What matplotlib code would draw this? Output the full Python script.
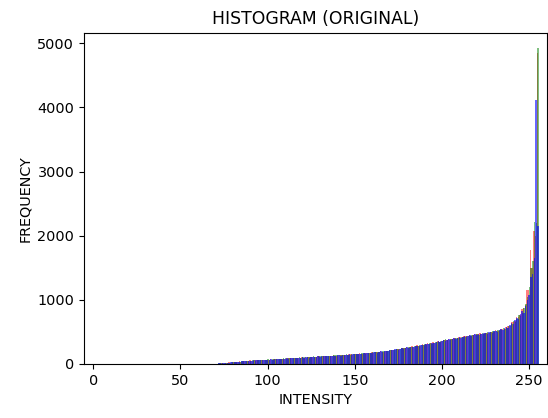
import numpy as np
import matplotlib
matplotlib.use('Agg')
import matplotlib.pyplot as plt

# Pixel counts per intensity level for each colour channel (0..255)
intensity = np.arange(256)

red_counts = [0] * 70 + [
    0, 3, 6, 12, 10, 14, 20, 18, 25, 22,
    30, 28, 35, 32, 40, 38, 45, 42, 50, 48,
    55, 50, 52, 60, 58, 55, 65, 60, 62, 70,
    68, 66, 75, 70, 72, 80, 76, 78, 85, 80,
    82, 90, 86, 88, 95, 90, 92, 100, 96, 98,
    106, 100, 102, 110, 105, 108, 115, 110, 112, 120,
    118, 115, 125, 120, 122, 130, 128, 125, 135, 132,
    130, 140, 138, 135, 148, 145, 142, 152, 150, 148,
    160, 155, 152, 165, 162, 160, 172, 168, 165, 178,
    182, 178, 190, 186, 182, 198, 192, 190, 205, 202,
    210, 218, 222, 220, 235, 230, 238, 250, 242, 248,
    262, 255, 258, 275, 270, 278, 290, 282, 288, 305,
    300, 305, 322, 315, 320, 340, 332, 338, 358, 350,
    360, 378, 370, 375, 392, 385, 390, 405, 398, 402,
    420, 415, 418, 438, 430, 432, 450, 442, 448, 465,
    460, 462, 478, 470, 472, 490, 488, 485, 505, 498,
    500, 525, 520, 515, 545, 540, 550, 580, 590, 600,
    660, 650, 670, 730, 740, 760, 850, 880, 920, 1160,
    1150, 1770, 1500, 2080, 2000, 4850]

green_counts = [0] * 70 + [
    4, 2, 10, 8, 14, 12, 16, 22, 20, 28,
    26, 32, 30, 38, 36, 42, 40, 48, 46, 52,
    48, 55, 58, 52, 62, 58, 60, 66, 64, 62,
    72, 70, 68, 76, 74, 72, 82, 80, 78, 88,
    86, 84, 92, 90, 88, 96, 94, 98, 102, 96,
    104, 106, 100, 112, 110, 106, 118, 116, 112, 122,
    120, 118, 128, 126, 120, 132, 130, 128, 138, 136,
    142, 136, 145, 142, 140, 150, 148, 146, 158, 154,
    152, 162, 158, 156, 168, 166, 162, 175, 172, 170,
    180, 185, 180, 192, 188, 186, 198, 196, 195, 208,
    215, 212, 225, 222, 230, 240, 235, 242, 255, 250,
    255, 265, 262, 268, 280, 275, 282, 295, 290, 298,
    310, 302, 315, 325, 318, 330, 345, 340, 350, 362,
    355, 368, 382, 372, 380, 395, 388, 392, 410, 402,
    408, 425, 420, 428, 442, 435, 440, 455, 448, 452,
    470, 458, 468, 482, 475, 480, 495, 490, 498, 508,
    515, 512, 528, 535, 530, 555, 545, 568, 595, 590,
    630, 670, 660, 700, 760, 750, 800, 870, 940, 1050,
    1200, 1500, 1600, 2210, 2200, 4920]

blue_counts = [0] * 70 + [
    2, 5, 8, 10, 12, 15, 18, 20, 22, 25,
    28, 30, 32, 35, 38, 40, 42, 45, 48, 50,
    50, 52, 55, 58, 55, 60, 62, 58, 65, 68,
    65, 70, 72, 68, 75, 78, 72, 80, 82, 78,
    85, 88, 82, 90, 92, 88, 95, 98, 92, 100,
    102, 98, 105, 108, 100, 110, 112, 108, 115, 118,
    112, 120, 122, 118, 125, 128, 122, 130, 132, 128,
    135, 138, 132, 140, 145, 140, 148, 150, 145, 155,
    158, 152, 160, 162, 158, 165, 170, 165, 172, 175,
    175, 180, 185, 178, 190, 195, 188, 200, 205, 198,
    212, 220, 215, 228, 232, 225, 240, 245, 238, 252,
    258, 250, 265, 272, 262, 280, 285, 278, 295, 300,
    292, 310, 318, 305, 325, 335, 322, 345, 352, 340,
    365, 372, 360, 380, 388, 375, 395, 400, 390, 410,
    418, 405, 425, 432, 420, 440, 445, 435, 452, 460,
    448, 465, 472, 460, 478, 485, 470, 492, 500, 488,
    510, 518, 505, 528, 540, 525, 560, 575, 560, 610,
    640, 625, 680, 710, 700, 780, 820, 800, 900, 1000,
    1080, 1350, 1400, 1650, 4110, 2150]

# colour, alpha and sideways shift per channel, blue drawn last on top
channels = [(red_counts, 'red', 0.5, -0.2),
            (green_counts, 'green', 0.5, 0.2),
            (blue_counts, 'blue', 0.6, 0.0)]

fig = plt.figure(figsize=(5.48, 4.18), dpi=100)
ax = fig.add_axes([0.1533, 0.1292, 0.8440, 0.7926])

for counts, colour, alpha, shift in channels:
    ax.bar(intensity + shift, counts, width=0.85, color=colour, alpha=alpha, linewidth=0)

ax.set_xlim(-5.3, 260)
ax.set_ylim(0, 5166)
ax.set_xticks([0, 50, 100, 150, 200, 250])
ax.set_yticks([0, 1000, 2000, 3000, 4000, 5000])
ax.tick_params(labelsize=10.4)

ax.set_title('HISTOGRAM (ORIGINAL)', fontsize=12.4)
ax.set_xlabel('INTENSITY', fontsize=10.4)
ax.set_ylabel('FREQUENCY', fontsize=10.4)

fig.savefig('out.png', dpi=100)
